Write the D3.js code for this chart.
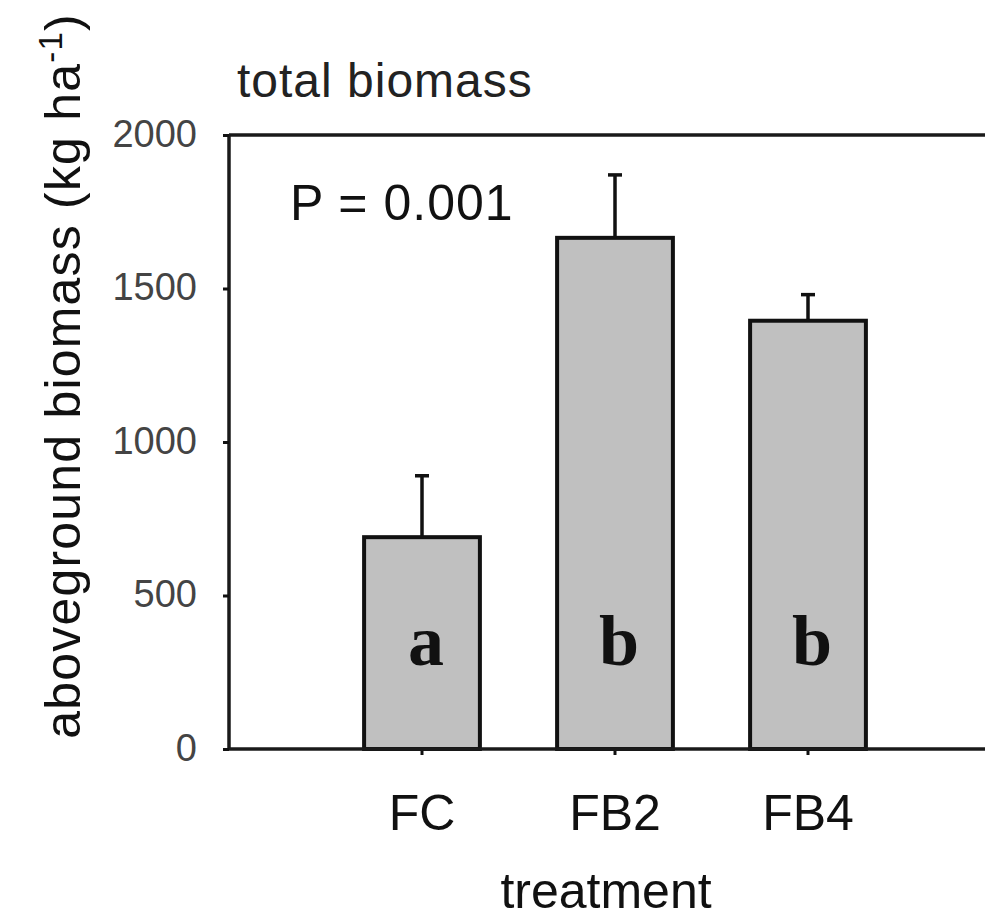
<!DOCTYPE html>
<html>
<head>
<meta charset="utf-8">
<script src="https://cdn.jsdelivr.net/npm/d3@7"></script>
<style>
  body { margin: 0; background: #fff; }
  svg { display: block; font-family: "Liberation Sans", Arial, sans-serif; }
</style>
</head>
<body>
<div class="main"></div>
<script>
// values
const categories = ["FC", "FB2", "FB4"]
const means = [690, 1665, 1395]
const errors = [200, 205, 85]
const letters = ["a", "b", "b"]
const yTicks = [0, 500, 1000, 1500, 2000]

const width = 985
const height = 922
const margin = ({top: 135, right: 0, bottom: 173, left: 229})

const y = d3.scaleLinear()
  .domain([0, 2000])
  .range([height - margin.bottom, margin.top])

// one empty slot each side of the bars
const step = 193
const x = d3.scaleBand()
  .domain(categories)
  .range([margin.left + step * 0.5, margin.left + step * 3.5])
  .paddingInner(0.4)
  .paddingOuter(0.2)

const svg = d3.select(".main")
  .append("svg")
    .attr("width", width)
    .attr("height", height)

// title + P value
svg.append("text")
  .attr("x", 237)
  .attr("y", 97)
  .attr("font-size", 48)
  .attr("letter-spacing", 1)
  .attr("fill", "#222")
  .text("total biomass")

svg.append("text")
  .attr("x", 290)
  .attr("y", 220)
  .attr("font-size", 50)
  .attr("letter-spacing", 1)
  .attr("fill", "#111")
  .text("P = 0.001")

// bars
const bars = svg.append("g")
  .selectAll("g")
  .data(categories)
  .join("g")

// error bars (upper only), drawn first so the bar edge covers the stem
bars.append("line")
  .attr("x1", d => x(d) + x.bandwidth() / 2)
  .attr("x2", d => x(d) + x.bandwidth() / 2)
  .attr("y1", (d, i) => y(means[i]))
  .attr("y2", (d, i) => y(means[i] + errors[i]))
  .attr("stroke", "#111")
  .attr("stroke-width", 3.5)

bars.append("line")
  .attr("x1", d => x(d) + x.bandwidth() / 2 - 7)
  .attr("x2", d => x(d) + x.bandwidth() / 2 + 7)
  .attr("y1", (d, i) => y(means[i] + errors[i]))
  .attr("y2", (d, i) => y(means[i] + errors[i]))
  .attr("stroke", "#111")
  .attr("stroke-width", 3.5)

bars.append("rect")
  .attr("x", d => x(d))
  .attr("y", (d, i) => y(means[i]))
  .attr("width", x.bandwidth())
  .attr("height", (d, i) => y(0) - y(means[i]))
  .attr("fill", "#c0c0c0")
  .attr("stroke", "#111")
  .attr("stroke-width", 4)

bars.append("text")
  .attr("x", d => x(d) + x.bandwidth() / 2 + 4)
  .attr("y", 665)
  .attr("text-anchor", "middle")
  .attr("font-family", "'Liberation Serif', 'Times New Roman', serif")
  .attr("font-weight", "bold")
  .attr("font-size", 72)
  .attr("fill", "#111")
  .text((d, i) => letters[i])

// frame: left, top, bottom
const frame = svg.append("g")
  .attr("stroke", "#1a1a1a")
  .attr("stroke-width", 3.5)
frame.append("line")
  .attr("x1", margin.left).attr("x2", width)
  .attr("y1", y(2000)).attr("y2", y(2000))
frame.append("line")
  .attr("x1", margin.left).attr("x2", margin.left)
  .attr("y1", y(2000)).attr("y2", y(0))

// y axis
const yAxis = svg.append("g")
  .attr("transform", `translate(${margin.left},0)`)
  .call(d3.axisLeft(y).tickValues(yTicks).tickFormat(d3.format("d")).tickSize(6).tickPadding(26))
yAxis.select(".domain").remove()
yAxis.selectAll(".tick line").attr("stroke", "#111").attr("stroke-width", 3)
yAxis.selectAll(".tick text")
  .attr("font-family", "'Liberation Sans', Arial, sans-serif")
  .attr("font-size", 38)
  .attr("fill", "#444")
  .attr("dy", "0.3em")

// x axis
const xAxis = svg.append("g")
  .attr("transform", `translate(0,${y(0)})`)
  .call(d3.axisBottom(x).tickSize(6).tickPadding(44))
xAxis.select(".domain").remove()
xAxis.selectAll(".tick line").attr("stroke", "#111").attr("stroke-width", 3)
xAxis.selectAll(".tick text")
  .attr("font-family", "'Liberation Sans', Arial, sans-serif")
  .attr("font-size", 50)
  .attr("fill", "#111")
  .attr("dy", "0.62em")

svg.append("line")
  .attr("x1", margin.left).attr("x2", width)
  .attr("y1", y(0)).attr("y2", y(0))
  .attr("stroke", "#1a1a1a")
  .attr("stroke-width", 3.5)

// axis titles
svg.append("text")
  .attr("x", 606)
  .attr("y", 908)
  .attr("text-anchor", "middle")
  .attr("font-size", 50)
  .attr("fill", "#111")
  .text("treatment")

const yTitle = svg.append("text")
  .attr("transform", "translate(80,376) rotate(-90)")
  .attr("text-anchor", "middle")
  .attr("font-size", 50)
  .attr("letter-spacing", 1.2)
  .attr("fill", "#111")
yTitle.append("tspan").text("aboveground biomass (kg ha")
yTitle.append("tspan").attr("dy", -18).attr("font-size", 33).text("-1")
yTitle.append("tspan").attr("dy", 18).text(")")
</script>
</body>
</html>
